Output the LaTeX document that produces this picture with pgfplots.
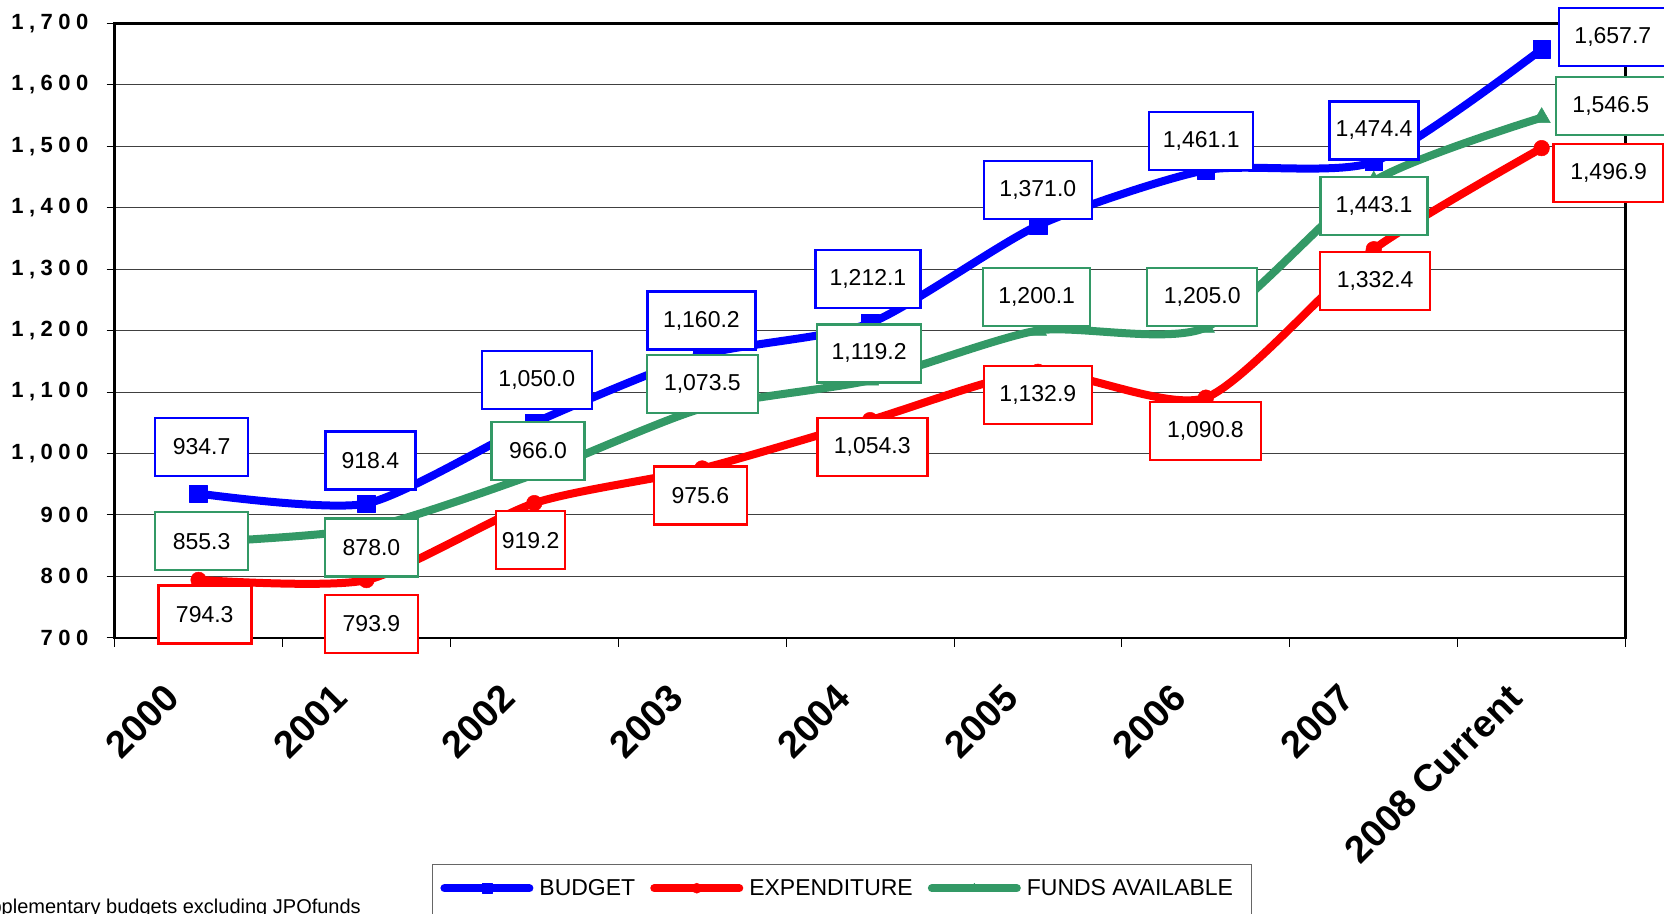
\documentclass[border=0pt]{standalone}
\usepackage{pgfplots}
\pgfplotsset{compat=1.18}
\usepackage{fontspec}
\setmainfont{Liberation Sans}
\newfontfamily\ytickfont[LetterSpace=25]{Liberation Sans}
\definecolor{cBud}{RGB}{0,0,255}
\definecolor{cExp}{RGB}{255,0,0}
\definecolor{cFund}{RGB}{51,153,102}
\tikzset{lbl/.style={draw, fill=white, line width=2.5bp, minimum height=58bp, inner sep=0pt, font=\fontsize{23bp}{27bp}\selectfont}}
\pgfplotsset{frame/.style={at={(114.6bp,-637.8bp)}, anchor=south west,
  scale only axis, width=1511bp, height=614.5bp,
  xmin=-0.5, xmax=8.5, ymin=700, ymax=1700, clip=false}}
\begin{document}
\begin{tikzpicture}
\useasboundingbox (0,0) rectangle (1664bp,-914bp);
\clip (0,0) rectangle (1664bp,-914bp);
\begin{axis}[
  frame,
  axis line style={line width=2.5bp},
  tick align=outside,
  tick pos=left,
  xtick={0,...,8},
  xticklabels={2000,2001,2002,2003,2004,2005,2006,2007,2008 Current},
  major x tick style={draw=none},
  minor xtick={-0.5,0.5,...,8.5},
  minor x tick style={black, line width=1bp},
  minor tick length=9bp,
  ytick={700,800,...,1700},
  yticklabels={700,800,900,{1,000},{1,100},{1,200},{1,300},{1,400},{1,500},{1,600},{1,700}},
  major y tick style={black, line width=1bp},
  major tick length=8bp,
  ymajorgrids,
  major y grid style={black!75, line width=1bp},
  xticklabel style={font=\fontsize{38bp}{42bp}\selectfont\bfseries, inner sep=0pt, xshift=-36bp, yshift=-36bp, rotate=45, anchor=north east},
  yticklabel style={font=\ytickfont\fontsize{22bp}{25bp}\selectfont\bfseries, anchor=east, inner sep=0pt, xshift=-18bp},
  legend columns=3,
  legend style={at={(axis description cs:0.210,-0.368)}, anchor=north west, draw=black!60, line width=1bp,
    font=\fontsize{23bp}{27bp}\selectfont, inner xsep=4bp, inner ysep=13bp,
    nodes={inner sep=2bp},
    /tikz/every even column/.append style={column sep=9bp}},
  legend image code/.code={
    \path (0bp,0bp) (93bp,0bp);
    \draw[#1, line width=8bp, line cap=round, mark repeat=2, mark phase=2, mark size=5bp] plot coordinates {(4bp,0bp) (46.5bp,0bp) (89bp,0bp)};
  },
]
\addplot[cBud, line width=8bp, smooth, tension=0.4, line join=round, mark=square*, mark size=8.8bp, mark options={line width=0.5bp, solid}]
  coordinates {(0,934.7) (1,918.4) (2,1050.0) (3,1160.2) (4,1212.1) (5,1371.0) (6,1461.1) (7,1474.4) (8,1657.7)};
\addlegendentry{BUDGET}
\addplot[cExp, line width=8bp, smooth, tension=0.4, line join=round, mark=*, mark size=7.8bp, mark options={line width=0.5bp, solid}]
  coordinates {(0,794.3) (1,793.9) (2,919.2) (3,975.6) (4,1054.3) (5,1132.9) (6,1090.8) (7,1332.4) (8,1496.9)};
\addlegendentry{EXPENDITURE}
\addplot[cFund, line width=8bp, smooth, tension=0.4, line join=round, mark=triangle*, mark size=10bp, mark options={line width=0.5bp, solid}]
  coordinates {(0,855.3) (1,878.0) (2,966.0) (3,1073.5) (4,1119.2) (5,1200.1) (6,1205.0) (7,1443.1) (8,1546.5)};
\addlegendentry{FUNDS AVAILABLE\kern12bp}
\addlegendimage{empty legend}
\addlegendentry{}
\end{axis}
\begin{axis}[frame, hide axis]
% budget labels
\node[lbl,draw=cBud,minimum width=93bp] at (axis cs:0.018,1010.9) {934.7};
\node[lbl,draw=cBud,minimum width=90bp] at (axis cs:1.023,988.4) {918.4};
\node[lbl,draw=cBud,minimum width=110bp] at (axis cs:2.015,1119.7) {1,050.0};
\node[lbl,draw=cBud,minimum width=108bp] at (axis cs:2.995,1216.4) {1,160.2};
\node[lbl,draw=cBud,minimum width=105bp] at (axis cs:3.987,1283.8) {1,212.1};
\node[lbl,draw=cBud,minimum width=108bp] at (axis cs:4.999,1428.8) {1,371.0};
\node[lbl,draw=cBud,minimum width=104bp] at (axis cs:5.972,1508.3) {1,461.1};
\node[lbl,draw=cBud,minimum width=89bp] at (axis cs:7.002,1525.6) {1,474.4};
\node[lbl,draw=cBud,minimum width=108bp] at (axis cs:8.424,1677.5) {1,657.7};
% funds labels
\node[lbl,draw=cFund,minimum width=93bp] at (axis cs:0.018,857.2) {855.3};
\node[lbl,draw=cFund,minimum width=93bp] at (axis cs:1.03,846.8) {878.0};
\node[lbl,draw=cFund,minimum width=93bp] at (axis cs:2.022,1004) {966.0};
\node[lbl,draw=cFund,minimum width=111bp] at (axis cs:3.001,1112.8) {1,073.5};
\node[lbl,draw=cFund,minimum width=104bp] at (axis cs:3.994,1162.8) {1,119.2};
\node[lbl,draw=cFund,minimum width=107bp] at (axis cs:4.992,1254.4) {1,200.1};
\node[lbl,draw=cFund,minimum width=110bp] at (axis cs:5.978,1254.4) {1,205.0};
\node[lbl,draw=cFund,minimum width=107bp] at (axis cs:7.002,1402.9) {1,443.1};
\node[lbl,draw=cFund,minimum width=110bp] at (axis cs:8.412,1565.3) {1,546.5};
% expenditure labels
\node[lbl,draw=cExp,minimum width=93bp] at (axis cs:0.037,738) {794.3};
\node[lbl,draw=cExp,minimum width=93bp] at (axis cs:1.03,722.5) {793.9};
\node[lbl,draw=cExp,minimum width=69bp] at (axis cs:1.978,858.9) {919.2};
\node[lbl,draw=cExp,minimum width=93bp] at (axis cs:2.989,931.4) {975.6};
\node[lbl,draw=cExp,minimum width=110bp] at (axis cs:4.013,1010.9) {1,054.3};
\node[lbl,draw=cExp,minimum width=108bp] at (axis cs:4.999,1095.5) {1,132.9};
\node[lbl,draw=cExp,minimum width=111bp] at (axis cs:5.997,1036.8) {1,090.8};
\node[lbl,draw=cExp,minimum width=110bp] at (axis cs:7.008,1280.3) {1,332.4};
\node[lbl,draw=cExp,minimum width=110bp] at (axis cs:8.399,1456.5) {1,496.9};
\end{axis}
\node[anchor=base east, inner sep=0pt, font=\fontsize{20bp}{22bp}\selectfont] at (361bp,-913bp) {Supplementary budgets excluding JPOfunds};
\end{tikzpicture}
\end{document}
